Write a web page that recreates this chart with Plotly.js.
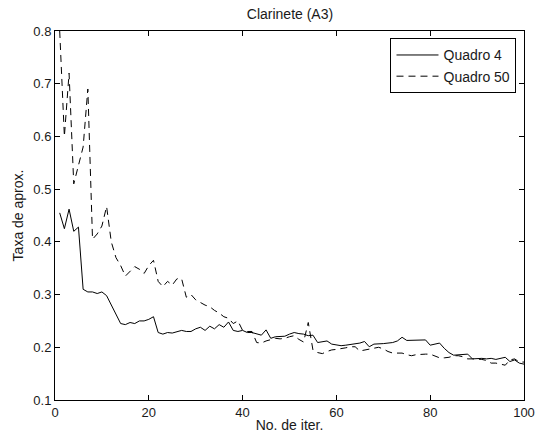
<!DOCTYPE html>
<html>
<head>
<meta charset="utf-8">
<script src="https://cdn.plot.ly/plotly-3.0.1.min.js"></script>
<style>html,body{margin:0;padding:0;background:#fff;}#chart{width:537px;height:438px;}</style>
</head>
<body>
<div id="chart"></div>
<script>
const iterations = Array.from({length: 100}, (_, i) => i + 1);
const quadro4 = [
  0.455, 0.425, 0.462, 0.420, 0.428, 0.310, 0.305, 0.305, 0.302, 0.305,
  0.298, 0.280, 0.260, 0.245, 0.243, 0.247, 0.245, 0.250, 0.250, 0.253,
  0.258, 0.228, 0.225, 0.228, 0.227, 0.230, 0.232, 0.230, 0.230, 0.235,
  0.238, 0.232, 0.240, 0.235, 0.243, 0.238, 0.248, 0.232, 0.230, 0.232,
  0.228, 0.228, 0.226, 0.223, 0.233, 0.217, 0.220, 0.220, 0.221, 0.225,
  0.228, 0.226, 0.225, 0.222, 0.223, 0.209, 0.210, 0.212, 0.206, 0.205,
  0.203, 0.204, 0.205, 0.206, 0.208, 0.211, 0.201, 0.206, 0.206, 0.207,
  0.208, 0.209, 0.212, 0.219, 0.213, 0.213, 0.213, 0.213, 0.214, 0.204,
  0.206, 0.208, 0.198, 0.190, 0.185, 0.186, 0.186, 0.187, 0.178, 0.179,
  0.179, 0.178, 0.179, 0.177, 0.179, 0.181, 0.173, 0.176, 0.170, 0.168
];
const quadro50 = [
  0.800, 0.600, 0.720, 0.510, 0.545, 0.580, 0.690, 0.405, 0.415, 0.430,
  0.467, 0.400, 0.370, 0.355, 0.335, 0.345, 0.353, 0.348, 0.340, 0.355,
  0.365, 0.325, 0.315, 0.325, 0.318, 0.330, 0.330, 0.295, 0.300, 0.290,
  0.285, 0.280, 0.277, 0.270, 0.265, 0.258, 0.255, 0.245, 0.250, 0.232,
  0.230, 0.230, 0.209, 0.208, 0.212, 0.215, 0.217, 0.216, 0.217, 0.220,
  0.222, 0.215, 0.210, 0.247, 0.195, 0.190, 0.188, 0.192, 0.195, 0.196,
  0.197, 0.199, 0.201, 0.201, 0.193, 0.195, 0.197, 0.199, 0.200, 0.197,
  0.192, 0.189, 0.189, 0.189, 0.186, 0.184, 0.186, 0.187, 0.187, 0.187,
  0.183, 0.180, 0.180, 0.181, 0.184, 0.184, 0.182, 0.178, 0.178, 0.178,
  0.177, 0.175, 0.170, 0.170, 0.168, 0.166, 0.176, 0.178, 0.172, 0.172
];
const seriesNames = ['Quadro 4', 'Quadro 50'];
const xTicks = [0, 20, 40, 60, 80, 100];
const yTicks = [0.1, 0.2, 0.3, 0.4, 0.5, 0.6, 0.7, 0.8];
const yTickText = ['0.1', '0.2', '0.3', '0.4', '0.5', '0.6', '0.7', '0.8'];

const font = 'Liberation Sans, Arial, Helvetica, sans-serif';
const textColor = '#1a1a1a';
const traces = [
  {x: iterations, y: quadro4, name: seriesNames[0], type: 'scatter', mode: 'lines',
   line: {color: '#000', width: 1}},
  {x: iterations, y: quadro50, name: seriesNames[1], type: 'scatter', mode: 'lines',
   line: {color: '#000', width: 1, dash: '7px,5px'}}
];
const axisCommon = {
  showline: true, linecolor: '#000', linewidth: 1, mirror: 'ticks',
  ticks: 'inside', ticklen: 5, tickcolor: '#000', tickwidth: 1,
  showgrid: false, zeroline: false, tickfont: {family: font, size: 13, color: textColor}
};
const layout = {
  width: 537, height: 438,
  margin: {l: 55, r: 13, t: 31, b: 38},
  paper_bgcolor: '#fff', plot_bgcolor: '#fff',
  font: {family: font, color: textColor},
  title: {text: 'Clarinete (A3)', font: {family: font, size: 14, color: textColor}, x: 0.54, xanchor: 'center', y: 0.968, yanchor: 'middle'},
  xaxis: Object.assign({}, axisCommon, {range: [0, 100], tickvals: xTicks, ticktext: xTicks.map(String),
    title: {text: 'No. de iter.', font: {family: font, size: 14, color: textColor}, standoff: 1}}),
  yaxis: Object.assign({}, axisCommon, {range: [0.1, 0.8], tickvals: yTicks, ticktext: yTickText,
    title: {text: 'Taxa de aprox.', font: {family: font, size: 14, color: textColor}, standoff: 6}}),
  legend: {x: 0.984, xanchor: 'right', y: 0.98, yanchor: 'top', bordercolor: '#000', borderwidth: 1,
    bgcolor: '#fff', font: {family: font, size: 14, color: textColor}, tracegroupgap: 0, itemwidth: 42},
  showlegend: true
};
Plotly.newPlot('chart', traces, layout, {staticPlot: true, displayModeBar: false});
</script>
</body>
</html>
